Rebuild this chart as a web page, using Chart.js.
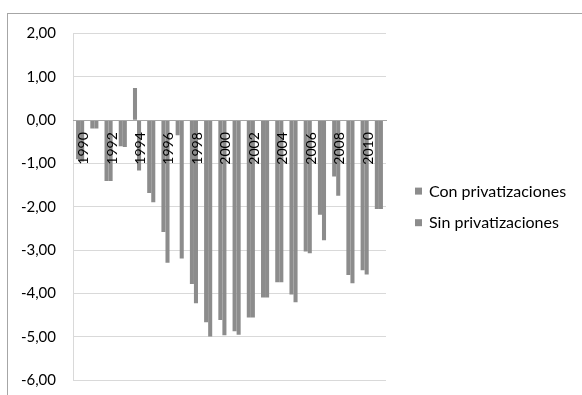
<!DOCTYPE html>
<html>
<head>
<meta charset="utf-8">
<script src="https://cdn.jsdelivr.net/npm/chart.js@4"></script>
<style>
  html, body { margin: 0; padding: 0; background: #fff; overflow: hidden; }
  #frame {
    position: absolute; left: 7px; top: 13px;
    width: 575px; height: 382px;
    border-top: 1px solid #a6a6a6; border-left: 1px solid #a6a6a6;
  }
  #frame canvas { display: block; }
</style>
</head>
<body>
<div id="frame"><canvas id="chart" width="574" height="381"></canvas></div>
<script>
/* ================= DATA ================= */
const years = ["1990", "1991", "1992", "1993", "1994", "1995", "1996", "1997", "1998", "1999", "2000",
               "2001", "2002", "2003", "2004", "2005", "2006", "2007", "2008", "2009", "2010", "2011"];

const conPrivatizaciones = [-0.90, -0.19, -1.40, -0.60, 0.74, -1.68, -2.58, -0.35, -3.78, -4.66, -4.61,
                            -4.87, -4.55, -4.09, -3.74, -4.02, -3.03, -2.18, -1.30, -3.57, -3.46, -2.05];

const sinPrivatizaciones = [-0.95, -0.19, -1.40, -0.62, -1.16, -1.89, -3.29, -3.19, -4.22, -4.99, -4.96,
                            -4.95, -4.55, -4.09, -3.74, -4.20, -3.07, -2.77, -1.74, -3.76, -3.56, -2.05];

const seriesNames = ["Con privatizaciones", "Sin privatizaciones"];
const yMin = -6, yMax = 2, yStep = 1;

/* ================= STYLE ================= */
const BAR_GRAY = "#8c8c8c";
const GRID_GRAY = "#d9d9d9";
const FONT = "Lato";

/* ================= LEGEND (drawn at the right, outside the plot) ================= */
const sideLegend = {
    id: "sideLegend",
    afterDraw(chart) {
        const c = chart.ctx;
        const x = chart.chartArea.right + 29;
        const mid = (chart.chartArea.top + chart.chartArea.bottom) / 2;
        const step = 31.6;
        c.save();
        c.font = "16px " + FONT;
        c.textBaseline = "middle";
        chart.data.datasets.forEach((ds, i) => {
            const y = mid + (i - (chart.data.datasets.length - 1) / 2) * step;
            c.fillStyle = ds.backgroundColor;
            c.fillRect(x, y - 3.5, 7, 7);
            c.fillStyle = "#000";
            c.fillText(ds.label, x + 14, y + 0.5);
        });
        c.restore();
    }
};

/* ================= CHART ================= */
const ctx = document.getElementById("chart").getContext("2d");
const chart = new Chart(ctx, {
    type: "bar",
    data: {
        labels: years,
        datasets: [
            { label: seriesNames[0], data: conPrivatizaciones, backgroundColor: BAR_GRAY, borderWidth: 0 },
            { label: seriesNames[1], data: sinPrivatizaciones, backgroundColor: BAR_GRAY, borderWidth: 0 }
        ]
    },
    options: {
        responsive: false,
        animation: false,
        devicePixelRatio: 1,
        datasets: { bar: { categoryPercentage: 0.57, barPercentage: 1.0 } },
        layout: { padding: { left: 0, top: 19.5, right: 196, bottom: 14.7 } },
        scales: {
            x: {
                position: { y: 0 },   // axis sits on the zero line
                grid: { display: false, drawTicks: false },
                border: { display: true, color: "#a6a6a6", width: 1, z: 1 },
                ticks: {
                    z: 1,             // labels over the bars, like the original
                    autoSkip: false,
                    minRotation: 90,
                    maxRotation: 90,
                    padding: 12,
                    labelOffset: 3.5,
                    color: "#000",
                    font: { family: FONT, size: 14 },
                    callback: (val, i) => (i % 2 === 0 ? years[i] : "")
                }
            },
            y: {
                min: yMin,
                max: yMax,
                grid: { color: GRID_GRAY, lineWidth: 1, drawTicks: false },
                border: { display: true, color: GRID_GRAY, width: 1 },
                ticks: {
                    stepSize: yStep,
                    padding: 17,
                    color: "#000",
                    font: { family: FONT, size: 15 },
                    callback: v => v.toFixed(2).replace(".", ",")
                },
                afterFit: s => { s.width = 65; s.paddingTop = 0; s.paddingBottom = 0; }
            }
        },
        plugins: {
            tooltip: { enabled: false },
            legend: { display: false }
        }
    },
    plugins: [sideLegend]
});
</script>
</body>
</html>
